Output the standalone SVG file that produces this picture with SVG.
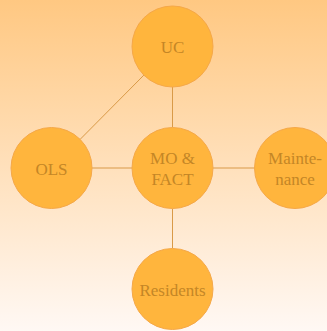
<svg xmlns="http://www.w3.org/2000/svg" width="327" height="331" viewBox="0 0 327 331">
<defs>
<linearGradient id="bg" x1="0" y1="0" x2="0" y2="1">
<stop offset="0" stop-color="#ffc882"/>
<stop offset="1" stop-color="#fff8f4"/>
</linearGradient>
<style>
.n{fill:#ffb53d;stroke:#f5a848;stroke-width:1}
.t{fill:#c48626;text-anchor:middle}
.c line{stroke:#d99a48;stroke-width:1}
</style>
</defs>
<rect width="327" height="331" fill="url(#bg)"/>
<g class="c" id="connectors">
<line x1="172.5" y1="87" x2="172.5" y2="127.5"/>
<line x1="92" y1="168" x2="132" y2="168"/>
<line x1="213" y1="168" x2="254.5" y2="168"/>
<line x1="172.5" y1="208.5" x2="172.5" y2="248.5"/>
<line x1="143.9" y1="75.1" x2="80.1" y2="139.4"/>
</g>
<g font-family="'Liberation Serif', 'Times New Roman', serif" font-size="17">
<g id="uc"><circle class="n" cx="172.5" cy="46.5" r="40.5"/><text class="t" x="172.5" y="53">UC</text></g>
<g id="mo"><circle class="n" cx="172.5" cy="168" r="40.5"/><text class="t" x="172.5" y="163.5">MO &amp;</text><text class="t" x="172.5" y="185">FACT</text></g>
<g id="ols"><circle class="n" cx="51.5" cy="168" r="40.5"/><text class="t" x="51.5" y="174.5">OLS</text></g>
<g id="maint"><circle class="n" cx="295" cy="168" r="40.5"/><text class="t" x="295" y="163.5">Mainte-</text><text class="t" x="295" y="185">nance</text></g>
<g id="res"><circle class="n" cx="172.5" cy="289" r="40.5"/><text class="t" x="172.5" y="295.5">Residents</text></g>
</g>
</svg>
